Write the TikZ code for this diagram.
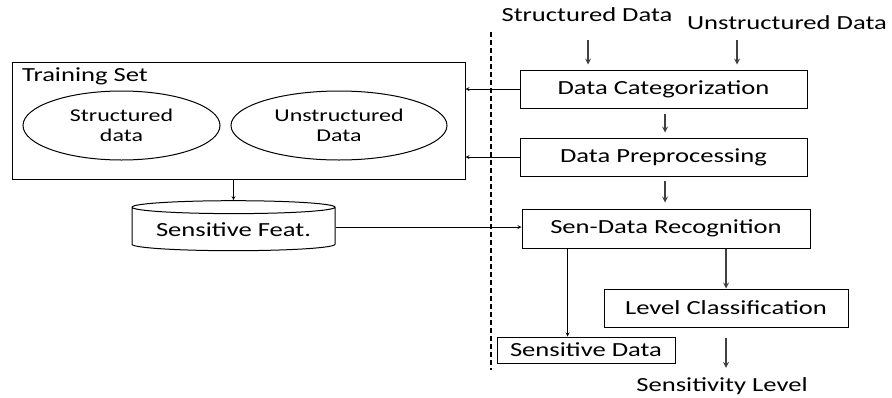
\documentclass[tikz,border=0pt]{standalone}
\usepackage{fontspec}
\setmainfont[FakeStretch=1.33]{Carlito}
\usetikzlibrary{positioning}
\usetikzlibrary{calc}
\usetikzlibrary{shapes.geometric}
\usetikzlibrary{arrows}
\tikzset{
    % Small pointed tips, as in the drawing
    >=stealth,
%
    % A plain stage of the pipeline
    stage box/.style={
        draw, line width=1pt, rectangle, inner sep=0pt,
        minimum width=#1, minimum height=38pt},
%
    % Data groups inside the training set
    group oval/.style={
        draw, line width=1pt, ellipse, inner sep=0pt, align=center,
        minimum width=#1, minimum height=69pt,
        font=\fontsize{18}{20}\selectfont},
%
    % Feature store drawn as a flat drum
    store drum/.style={
        draw, line width=1pt, cylinder, shape border rotate=90,
        aspect=0.08, minimum width=203pt, minimum height=50pt},
%
    % Thin feed lines and heavier step arrows
    feed/.style={->, line width=0.8pt},
    step arrow/.style={->, line width=1.6pt, black!75}}

\begin{document}
\begin{tikzpicture}[x=1pt, y=-1pt]

\tikzset{
    every node/.style={font=\fontsize{20}{22}\selectfont}}

\useasboundingbox (0,0) rectangle (892,397);

% left side: training material
\node (training) [draw, line width=1pt, rectangle, inner sep=0pt,
    minimum width=453pt, minimum height=117pt] at (238.5,120.5) {};
\node (tslabel) [anchor=west, inner sep=0pt] at (22,76) {Training Set};
\node (sgroup) [group oval=197pt] at (121.5,125.5) {Structured\\data};
\node (ugroup) [group oval=216pt] at (339,125.5) {Unstructured\\Data};
\node (feat) [store drum] at (233.5,230) {Sensitive Feat.};

% right side: the pipeline
\node (sinput) at (587,15) {Structured Data};
\node (uinput) at (787,23) {Unstructured Data};
\node (cat) [stage box=287pt] at (663.5,89) {Data Categorization};
\node (prep) [stage box=287pt] at (663.5,157) {Data Preprocessing};
\node (recog) [stage box=288pt, minimum height=39pt]
    at (666,228.5) {Sen-Data Recognition};
\node (level) [stage box=244pt] at (726,308) {Level Classification};
\node (sensdata) [stage box=178pt, minimum height=26pt]
    at (586,350) {Sensitive Data};
\node (senslevel) at (722,386) {Sensitivity Level};

\draw [line width=1.3pt, dash pattern=on 5pt off 3pt] (491,32) -- (491,370);

\coordinate (sfeed) at (588,40);
\coordinate (ufeed) at (737,40);
\draw [step arrow, shorten >=5pt] (sfeed) -- (sfeed |- cat.north);
\draw [step arrow, shorten >=5pt] (ufeed) -- (ufeed |- cat.north);
\draw [step arrow, shorten <=5pt, shorten >=5pt]
    ([xshift=1.5pt]cat.south) -- ([xshift=1.5pt]prep.north);
\draw [step arrow, shorten <=4pt, shorten >=6pt]
    ([xshift=1.5pt]prep.south) -- ([xshift=1.5pt]prep.south |- recog.north);
\draw [step arrow] (level.north |- recog.south) -- (level.north);
\draw [step arrow, shorten <=10pt, shorten >=6pt]
    (level.south) -- (level.south |- senslevel.north);
\draw [feed] ([xshift=46pt]recog.south west)
    -- ([xshift=46pt]recog.south west |- sensdata.north);

\draw [feed] (cat.west) -- (cat.west -| training.east);
\draw [feed] (prep.west) -- (prep.west -| training.east);
\draw [feed] (feat.north |- training.south) -- (feat.north);
\draw [feed] ([yshift=3pt]feat.east) -- ([yshift=3pt]feat.east -| recog.west);

\end{tikzpicture}
\end{document}
